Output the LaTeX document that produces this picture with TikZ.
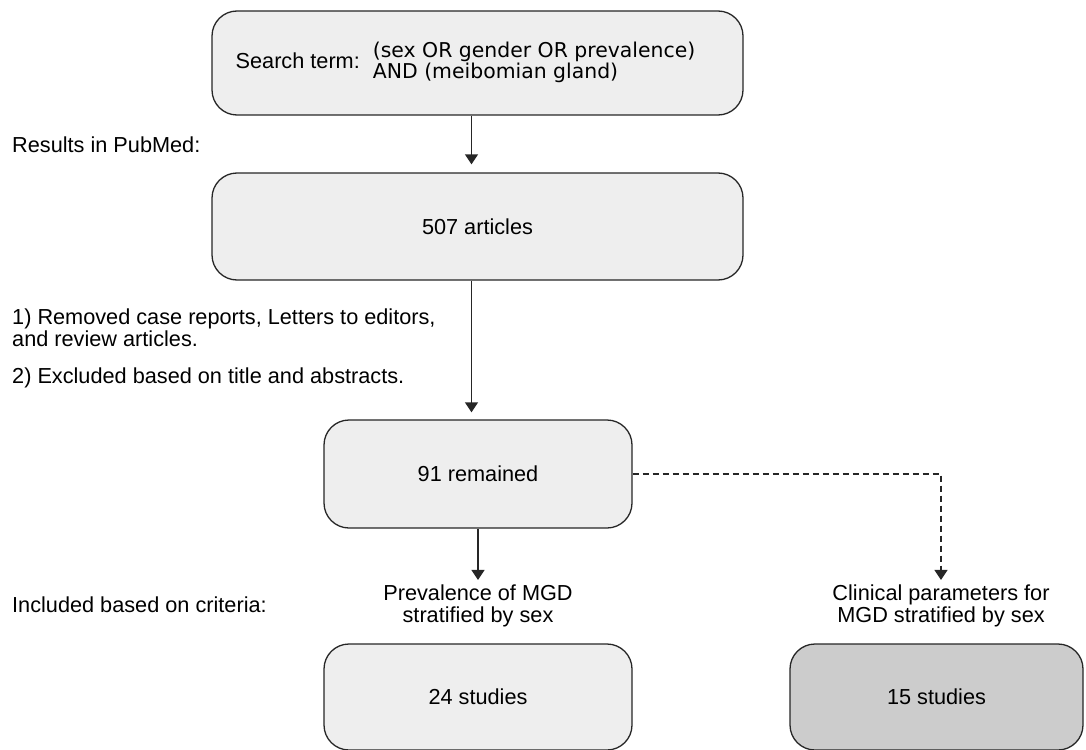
\documentclass[tikz,border=0pt]{standalone}
\usepackage{fontspec}
\setmainfont{Liberation Sans}
\newfontfamily\querytext{DejaVu Sans}
\usetikzlibrary{arrows.meta}
\definecolor{boxfill}{HTML}{EEEEEE}
\definecolor{boxdark}{HTML}{CCCCCC}

\begin{document}
\begin{tikzpicture}[x=1pt, y=-1pt,
	font=\fontsize{21.7}{21.5}\selectfont,
	stagebox/.style={draw=black!85, line width=1.3pt, fill=boxfill, rounded corners=25pt, inner sep=0pt},
	flow/.style={draw=black!85, line width=1.3pt, -{Triangle[width=13pt,length=10pt]}},
	note/.style={anchor=west, align=left, inner sep=0pt},
	crit/.style={align=center, inner sep=0pt}]
	
	\useasboundingbox (0,0) rectangle (1086,749);
	
	% boxes of the flow
	\node[stagebox, minimum width=531pt, minimum height=104pt] (search) at (477.5,63)
		{Search term:\hspace{13pt}{\querytext\fontsize{20.4}{19}\selectfont\begin{tabular}{@{}l@{}}(sex OR gender OR prevalence)\\AND (meibomian gland)\end{tabular}}\hspace*{24pt}};
	\node[stagebox, minimum width=531pt, minimum height=107pt] (results) at (477.5,226.5) {507 articles};
	\node[stagebox, minimum width=308pt, minimum height=108pt] (remained) at (478,474) {91 remained};
	\node[stagebox, minimum width=308pt, minimum height=106pt] (prev) at (478,697) {24 studies};
	\node[stagebox, fill=boxdark, minimum width=293pt, minimum height=106pt] (clin) at (936.5,697) {15 studies};
	
	% notes on the left
	\node[note] (pubmed) at (12,145) {Results in PubMed:};
	\node[note] (removed) at (12,327.5) {1) Removed case reports, Letters to editors,\\and review articles.};
	\node[note] (excluded) at (12,378) {2) Excluded based on title and abstracts.};
	\node[note] (included) at (12,605) {Included based on criteria:};
	
	% criteria
	\node[crit] (prevlbl) at (478,606) {Prevalence of MGD\\stratified by sex};
	\node[crit] (clinlbl) at (941,606) {Clinical parameters for\\MGD stratified by sex};
	
	% arrows
	\coordinate (xleft) at (471.5,0);
	\draw[flow, shorten >=8pt] (search.south -| xleft) -- (results.north -| xleft);
	\draw[flow, shorten >=7pt] (results.south -| xleft) -- (remained.north -| xleft);
	\draw[flow, shorten >=5pt] (remained.south) -- (prevlbl.north);
	\draw[flow, dashed, dash pattern=on 6pt off 4pt, shorten >=5pt] (remained.east) -| (clinlbl.north);
	
\end{tikzpicture}
\end{document}
